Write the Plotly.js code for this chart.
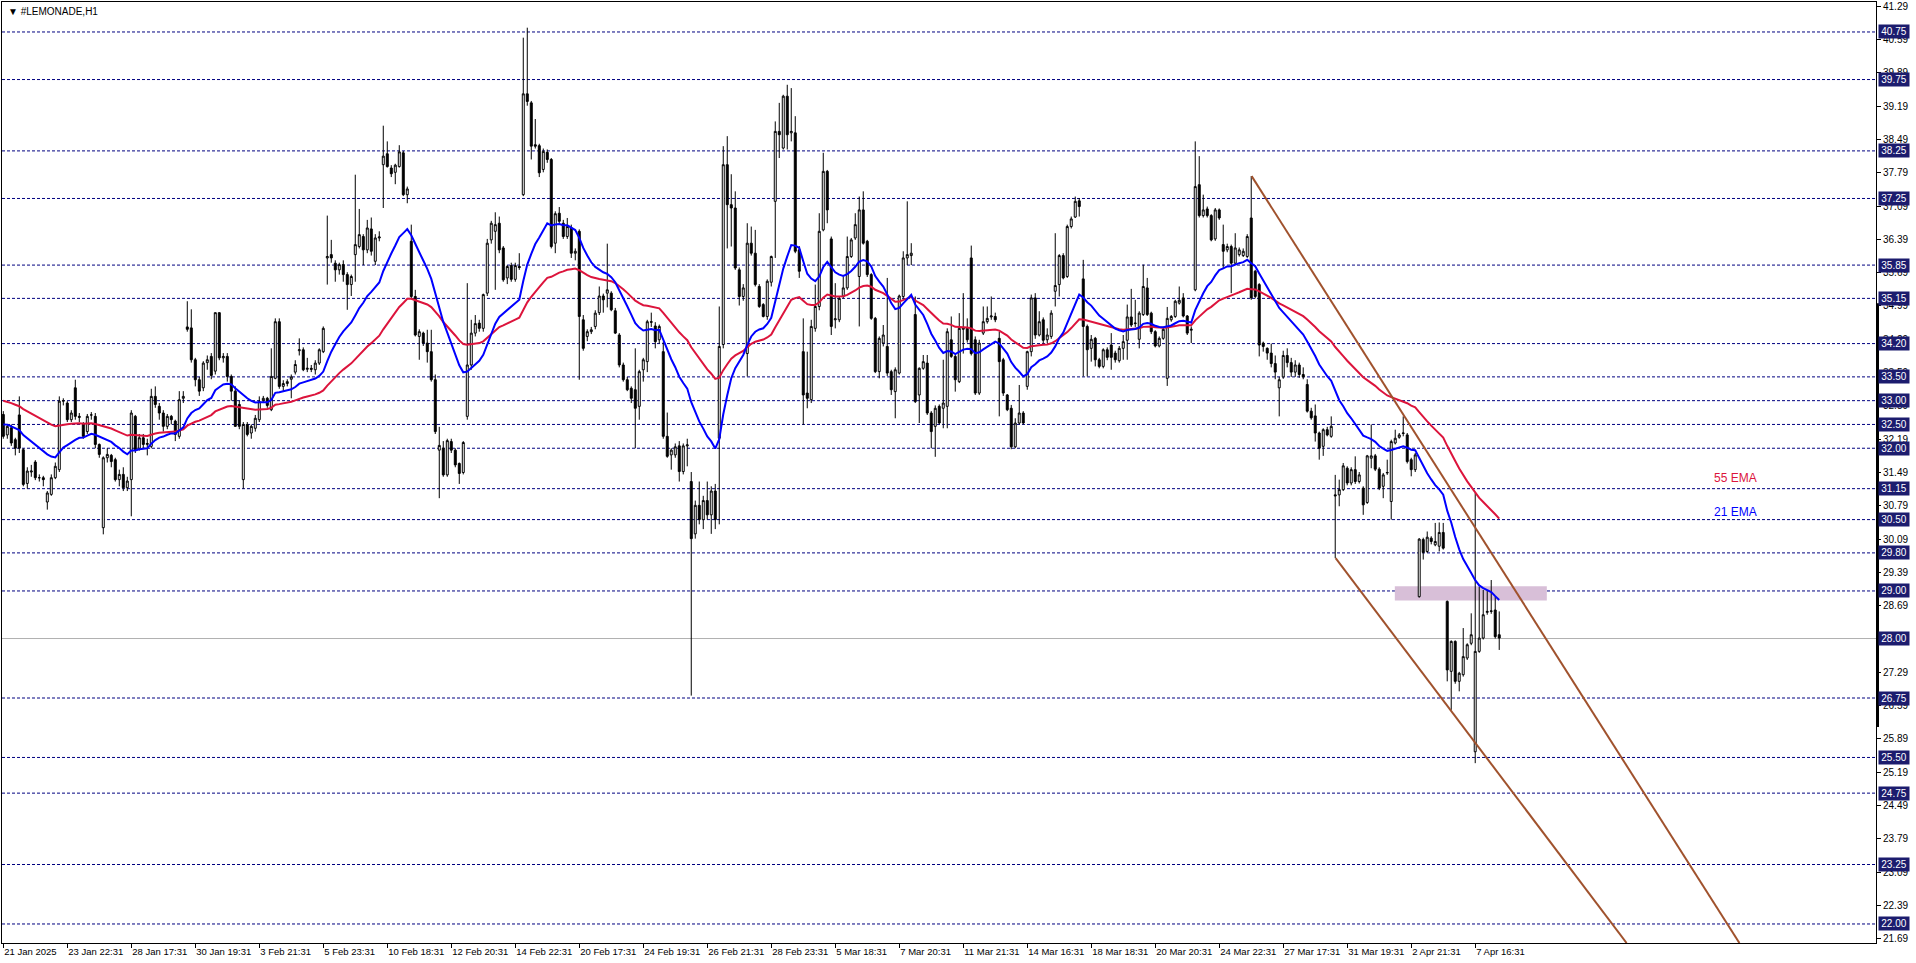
<!DOCTYPE html>
<html><head><meta charset="utf-8">
<script src="https://cdn.plot.ly/plotly-3.0.1.min.js"></script>
<style>html,body{margin:0;padding:0;background:#fff;}#chart{width:1916px;height:963px;}</style>
</head><body><div id="chart"></div>
<script>
const symbolTitle = '\u25BC #LEMONADE,H1';

const openPrices = [
32.71,32.28,32.43,32.18,32.70,31.97,31.26,31.50,31.71,31.38,
31.38,30.87,31.03,31.38,31.55,32.99,32.95,32.60,33.27,32.67,
32.50,32.35,32.70,32.67,32.08,30.33,31.80,31.85,31.76,31.34,
31.45,31.17,31.34,32.67,32.00,32.22,32.08,32.04,33.09,32.88,
32.74,32.46,32.67,32.57,32.25,33.05,34.55,34.53,33.86,33.44,
33.27,33.80,33.93,33.62,34.85,33.90,33.93,33.51,33.20,32.92,
31.34,32.50,32.32,32.42,32.60,33.00,33.05,32.81,33.47,34.66,
33.30,33.36,33.45,33.60,34.05,34.07,33.66,33.68,33.65,33.79,
34.03,36.00,36.07,35.89,35.75,35.86,35.65,35.44,36.07,36.24,
36.45,36.17,36.61,35.93,36.42,37.96,38.19,37.89,37.80,37.92,
38.21,37.33,36.35,35.19,34.35,34.42,34.21,34.03,33.44,31.96,
32.00,31.44,32.14,31.96,31.68,31.49,32.67,33.75,34.42,34.63,
34.52,35.26,36.38,36.56,36.73,36.21,35.58,35.84,35.55,35.82,
37.33,39.45,39.26,38.38,38.36,37.86,38.22,38.07,36.31,36.94,
36.73,36.45,36.63,36.10,36.56,34.70,34.35,34.45,34.56,34.85,
35.20,35.26,35.26,34.89,34.38,33.75,33.44,33.26,33.23,32.88,
33.65,33.82,34.66,34.57,34.28,34.03,32.25,31.86,31.86,32.05,
31.51,32.05,31.30,30.20,30.80,30.50,30.90,30.60,31.10,32.21,
34.18,37.96,37.12,37.05,35.75,35.19,33.99,36.31,36.10,35.40,
35.02,34.77,35.49,37.19,38.66,38.31,39.40,38.63,38.63,36.17,
34.03,33.16,33.02,34.52,34.98,36.59,37.82,36.40,34.70,34.70,
35.19,35.37,36.03,36.42,35.61,37.01,36.35,35.65,34.73,33.61,
34.21,34.14,33.61,33.19,33.58,35.19,36.00,36.05,34.81,33.12,
33.68,33.79,32.74,32.46,32.88,32.84,32.88,34.28,33.93,33.40,
34.50,34.52,36.00,34.28,33.16,34.42,34.66,34.76,34.77,34.31,
33.86,33.12,32.84,32.03,32.53,32.74,33.30,34.03,35.16,34.38,
34.70,34.28,34.35,35.30,35.44,36.05,35.61,36.66,36.86,37.20,
35.56,34.56,34.10,34.31,33.86,33.72,34.07,34.17,34.00,33.84,
34.10,34.27,34.76,34.62,34.29,34.81,35.37,34.84,34.45,34.15,
34.31,33.47,34.70,34.77,35.05,35.16,34.78,34.48,35.33,37.54,
36.89,37.03,36.89,36.40,37.01,36.28,36.17,36.24,35.89,36.07,
36.05,36.03,36.84,35.72,35.44,34.21,34.10,34.00,33.78,33.27,
33.50,33.95,33.80,33.60,33.75,33.55,33.34,32.78,32.68,32.32,
32.04,32.39,32.25,31.02,31.02,31.13,31.58,31.27,31.55,31.30,
31.16,30.86,31.79,31.84,31.56,31.20,31.48,30.88,32.11,32.23,
32.31,32.28,31.76,31.55,28.88,30.08,29.83,30.11,29.97,29.94,
30.23,28.78,27.31,27.94,27.10,27.24,27.59,27.90,25.62,27.73,
28.01,28.55,28.57,28.60,28.08];

const highPrices = [
32.78,32.50,32.50,32.22,33.09,32.00,31.60,31.65,31.75,31.45,
31.42,31.10,31.45,31.70,33.09,33.05,32.99,32.80,33.44,32.74,
32.55,32.72,32.76,32.74,32.10,31.83,32.00,31.88,31.80,31.55,
31.60,31.40,32.80,32.70,32.30,32.30,32.20,33.25,33.30,32.95,
32.80,32.72,32.70,32.60,33.20,33.20,35.09,34.92,33.90,33.50,
33.83,33.95,34.00,34.85,34.85,34.00,34.00,33.55,33.30,33.00,
32.55,32.55,32.50,32.70,33.09,33.10,33.08,34.10,34.73,34.73,
33.43,33.45,33.55,33.85,34.31,34.12,33.90,33.75,33.85,34.10,
34.56,36.89,36.38,35.95,35.90,35.95,35.70,35.65,37.75,37.03,
36.50,36.80,36.85,36.50,36.56,38.78,38.45,37.95,37.98,38.37,
38.25,37.50,36.70,35.33,34.50,34.45,34.49,34.49,33.55,32.45,
32.15,32.20,32.20,32.00,31.70,32.15,35.47,34.70,34.80,34.70,
35.25,36.40,36.78,36.96,36.87,36.25,35.85,35.90,35.90,36.10,
40.63,40.84,39.30,38.92,38.40,38.30,38.28,38.10,36.98,37.07,
36.80,36.84,36.70,36.20,36.60,34.80,34.50,34.55,34.90,35.40,
35.25,36.30,35.30,34.95,34.42,33.80,33.50,33.30,34.10,33.65,
33.90,34.70,34.85,34.65,34.60,34.24,32.75,32.00,32.10,32.15,
32.10,32.20,31.50,30.90,31.30,31.00,31.30,31.20,31.25,34.98,
38.35,38.56,37.76,37.40,35.80,35.45,36.73,36.66,36.59,35.45,
35.05,35.55,36.05,38.87,39.26,39.43,39.64,39.57,38.98,36.25,
34.73,34.03,34.70,35.44,36.94,38.21,37.85,36.45,35.47,35.19,
35.61,36.45,36.42,36.94,37.29,37.40,36.38,35.68,34.76,34.35,
34.59,35.58,33.65,33.70,35.23,36.14,37.19,36.31,35.19,33.70,
33.96,33.96,32.78,32.90,32.92,33.86,34.52,34.77,33.96,34.84,
35.26,34.73,36.26,34.35,34.28,34.98,34.98,35.19,34.85,34.45,
33.90,33.14,32.91,32.63,33.33,32.78,34.05,35.23,35.26,34.88,
34.75,34.52,34.90,36.52,36.08,36.10,36.70,36.87,37.29,37.26,
35.96,34.60,34.38,34.34,33.90,34.10,34.12,34.42,34.05,34.15,
34.38,35.02,35.35,35.12,34.88,35.86,35.58,34.87,34.48,34.35,
34.55,34.97,34.80,35.12,35.40,35.26,34.80,34.56,38.45,38.14,
37.33,37.08,36.92,37.05,37.04,36.70,36.30,36.28,36.52,36.22,
36.20,36.50,37.72,35.75,35.47,34.24,34.12,34.20,33.95,33.50,
34.05,34.10,33.90,33.85,33.80,33.70,33.45,32.85,32.92,32.35,
32.42,32.45,32.67,31.44,31.34,31.69,31.62,31.60,31.83,31.50,
31.20,31.86,32.50,31.88,31.60,31.48,31.76,32.18,32.39,32.32,
32.67,32.32,31.80,31.90,30.11,30.12,30.25,30.15,30.43,30.44,
30.43,28.80,27.96,27.96,27.30,28.22,27.90,28.53,31.06,29.09,
29.02,29.02,29.23,28.88,28.57];

const lowPrices = [
32.20,32.20,32.05,31.85,31.90,31.20,31.15,31.40,31.33,31.30,
31.20,30.71,31.00,31.35,31.50,32.90,32.55,32.55,32.60,32.55,
32.20,32.30,32.60,32.00,31.80,30.19,31.70,31.60,31.30,31.20,
31.10,31.10,30.57,31.90,31.95,32.00,31.85,32.00,32.85,32.60,
32.35,32.40,32.50,32.15,32.20,32.95,34.45,33.80,33.30,33.10,
33.20,33.65,33.45,33.55,33.85,33.80,33.40,33.00,32.45,32.40,
31.15,32.25,32.20,32.35,32.55,32.95,32.85,32.78,33.45,33.25,
33.20,33.30,33.05,33.55,33.95,33.62,33.60,33.60,33.55,33.75,
34.00,35.44,35.90,35.50,35.65,35.50,34.91,35.20,35.50,36.20,
35.85,36.10,36.05,35.85,36.35,37.05,37.90,37.70,37.55,37.90,
37.30,37.15,35.15,34.35,33.86,34.15,33.80,33.40,32.30,30.95,
31.40,31.40,31.90,31.60,31.25,31.45,32.60,33.65,34.35,34.45,
34.45,35.20,36.30,35.33,36.10,35.50,35.45,35.50,35.50,35.75,
37.30,39.20,38.07,38.30,37.70,37.80,38.00,36.20,36.10,36.70,
36.40,36.40,36.00,35.95,33.44,34.05,34.25,34.40,34.50,34.80,
34.85,34.96,34.88,34.40,33.70,33.40,33.20,32.95,32.00,32.60,
33.40,33.60,34.55,34.10,34.20,32.20,31.80,31.55,31.80,31.30,
31.45,31.62,26.80,30.10,30.40,30.30,30.50,30.20,30.30,30.40,
34.10,36.20,36.24,35.75,35.00,35.10,33.51,36.05,35.40,34.95,
34.75,34.70,35.40,36.00,38.10,38.28,38.28,38.45,36.10,35.58,
32.49,32.84,32.95,34.45,34.90,36.56,36.73,34.38,34.52,34.65,
35.15,35.33,36.00,36.38,34.56,36.28,35.60,34.70,33.58,33.47,
34.14,33.52,33.12,32.63,33.55,35.15,35.85,35.85,32.95,32.53,
33.65,32.70,32.00,31.82,32.50,32.42,32.42,33.90,33.19,33.37,
33.99,34.22,33.95,33.12,33.12,34.38,34.62,34.70,34.65,32.67,
33.10,32.78,31.98,32.00,32.50,32.50,33.23,33.93,34.30,34.35,
34.20,34.21,34.30,34.98,35.19,35.55,35.58,36.62,36.84,36.87,
33.51,33.51,33.82,33.72,33.68,33.68,33.85,33.65,33.80,33.80,
33.86,33.86,34.55,34.55,34.10,34.78,34.78,34.40,34.12,34.12,
34.28,33.31,34.66,34.74,35.02,34.75,34.38,34.21,35.30,36.85,
36.85,36.85,36.35,36.36,36.80,35.79,36.12,35.26,35.86,36.03,
36.02,36.00,35.12,35.15,33.93,34.03,33.86,33.70,33.45,32.67,
33.46,33.70,33.50,33.50,33.48,33.45,32.75,32.60,32.14,31.76,
31.84,32.25,32.22,29.69,30.78,31.10,31.22,31.22,31.25,31.26,
30.60,30.83,31.58,31.52,31.12,30.95,31.44,30.50,32.08,32.20,
32.25,31.68,31.41,31.50,28.86,29.66,29.80,29.98,29.94,29.83,
29.87,27.10,26.50,27.05,26.89,27.20,27.55,27.86,25.38,27.70,
27.98,28.50,28.52,28.00,27.76];

const closePrices = [
32.25,32.46,32.11,32.00,32.00,31.24,31.52,31.52,31.38,31.38,
31.34,31.06,31.38,31.62,32.99,33.00,32.60,32.74,32.67,32.65,
32.25,32.67,32.70,32.08,31.87,31.80,31.87,31.72,31.34,31.45,
31.17,31.31,32.74,31.97,32.22,32.08,32.10,33.09,32.92,32.74,
32.46,32.67,32.60,32.29,33.02,33.09,34.50,33.86,33.44,33.20,
33.79,33.86,33.53,34.85,33.90,33.93,33.51,33.20,32.46,32.46,
32.50,32.29,32.46,32.63,32.98,33.05,32.90,33.51,34.66,33.30,
33.36,33.40,33.50,33.76,34.07,33.65,33.68,33.66,33.79,34.07,
34.52,36.03,36.00,35.75,35.86,35.65,35.44,35.61,36.28,36.49,
36.17,36.63,36.14,36.42,36.44,38.14,37.92,37.77,37.95,38.23,
37.33,37.45,35.19,34.38,34.45,34.21,34.03,33.44,32.35,32.06,
31.44,32.16,31.96,31.65,31.47,32.12,33.75,34.42,34.62,34.52,
35.23,36.31,36.73,36.70,36.17,35.54,35.82,35.55,35.84,35.80,
39.45,39.29,38.35,38.35,37.79,38.24,38.07,36.24,36.93,36.77,
36.45,36.66,36.10,36.14,34.77,34.10,34.45,34.49,34.84,35.20,
35.12,35.33,34.91,34.42,33.75,33.44,33.23,33.05,32.84,33.61,
33.86,34.66,34.65,34.24,34.56,32.25,31.83,31.96,32.03,31.51,
32.05,32.07,30.10,30.80,30.50,30.90,30.60,31.10,30.50,34.14,
37.96,37.12,37.05,35.79,35.19,35.37,36.31,36.10,35.44,34.98,
34.77,35.51,36.03,38.66,38.59,39.40,38.59,38.66,36.14,35.72,
33.12,33.05,34.56,34.98,36.56,37.82,37.01,34.56,34.72,35.15,
35.37,36.03,36.38,36.70,37.01,36.31,35.65,34.73,33.61,34.31,
34.38,33.58,33.23,33.65,35.20,36.00,36.07,36.10,32.98,33.68,
33.82,32.74,32.35,32.84,32.53,32.95,34.45,33.93,33.44,34.52,
34.53,34.28,33.99,33.16,34.21,34.66,34.73,34.78,34.70,33.82,
33.16,32.81,32.03,32.53,32.74,32.53,34.03,35.16,34.38,34.66,
34.27,34.38,34.84,35.42,36.05,35.58,36.66,36.82,37.19,37.08,
34.56,34.07,34.29,33.86,33.72,34.07,33.91,33.91,33.86,34.10,
34.24,34.76,34.59,34.63,34.84,35.40,34.81,34.45,34.15,34.31,
34.50,34.73,34.77,35.09,35.11,34.78,34.42,34.50,37.50,36.89,
37.01,36.89,36.38,37.01,36.84,36.14,36.24,35.89,36.21,36.17,
36.14,36.45,35.16,35.19,34.17,34.14,34.00,33.78,33.60,33.44,
33.95,33.80,33.60,33.75,33.55,33.50,32.78,32.64,32.32,32.00,
32.39,32.28,32.46,31.00,31.13,31.63,31.27,31.55,31.30,31.44,
30.81,31.84,31.84,31.56,31.16,31.44,31.49,32.14,32.21,32.28,
32.32,31.72,31.55,31.86,30.09,29.81,30.13,30.04,30.04,30.23,
29.90,27.34,27.94,27.10,27.27,27.62,27.87,28.08,27.73,28.01,
28.50,28.57,28.58,28.04,28.01];

const xTickLabels = ['21 Jan 2025','23 Jan 22:31','28 Jan 17:31','30 Jan 19:31','3 Feb 21:31','5 Feb 23:31',
'10 Feb 18:31','12 Feb 20:31','14 Feb 22:31','20 Feb 17:31','24 Feb 19:31','26 Feb 21:31','28 Feb 23:31',
'5 Mar 18:31','7 Mar 20:31','11 Mar 21:31','14 Mar 16:31','18 Mar 18:31','20 Mar 20:31','24 Mar 22:31',
'27 Mar 17:31','31 Mar 19:31','2 Apr 21:31','7 Apr 16:31'];
const barsPerTick = 16;

const yTickValues = [41.29,40.59,39.89,39.19,38.49,37.79,37.09,36.39,35.69,34.99,34.29,33.59,32.89,32.19,
31.49,30.79,30.09,29.39,28.69,27.29,26.59,25.89,25.19,24.49,23.79,23.09,22.39,21.69];

const levelValues = [40.75,39.75,38.25,37.25,35.85,35.15,34.20,33.50,33.00,32.50,32.00,31.15,30.50,29.80,
29.00,28.00,26.75,25.50,24.75,23.25,22.00];
const currentPrice = 28.00;

// indicator values at the bar before the first visible bar
const ema21Prior = 32.525;
const ema55Prior = 33.027;

// drawn objects (bar index, price)
const upperChannel = [[312.1, 37.72],[434.05, 21.60]];
const lowerChannel = [[333.1, 29.69],[405.85, 21.60]];
const zoneBox = {x0: 347.9, x1: 385.9, y0: 28.80, y1: 29.10};
const emaLabels = [{text:'55 EMA', x:433, y:31.37, color:'#dc143c'},{text:'21 EMA', x:433, y:30.66, color:'#0000ff'}];

const yMin = 21.60, yMax = 41.38;

function ema(values, period, prior){
  const k = 2/(period+1); let prev = prior;
  return values.map(v => (prev = prev + k*(v-prev)));
}

const idx = closePrices.map((_, i) => i);
const ema21 = ema(closePrices, 21, ema21Prior);
const ema55 = ema(closePrices, 55, ema55Prior);

const font = 'Liberation Sans, Arial, sans-serif';

const traces = [
  {type:'candlestick', x: idx, open: openPrices, high: highPrices, low: lowPrices, close: closePrices,
   increasing:{line:{color:'#000000', width:1}, fillcolor:'#ffffff'},
   decreasing:{line:{color:'#000000', width:1}, fillcolor:'#000000'},
   whiskerwidth:0, hoverinfo:'skip', showlegend:false},
  {type:'scatter', mode:'lines', x: idx, y: ema55, line:{color:'#dc143c', width:2}, hoverinfo:'skip', showlegend:false},
  {type:'scatter', mode:'lines', x: idx, y: ema21, line:{color:'#0000ff', width:2}, hoverinfo:'skip', showlegend:false}
];

const shapes = [];
shapes.push({type:'rect', xref:'x', yref:'y', x0:zoneBox.x0, x1:zoneBox.x1, y0:zoneBox.y0, y1:zoneBox.y1,
  fillcolor:'#d8bfd8', line:{width:0}, layer:'below'});
levelValues.forEach(v => {
  if (v === currentPrice) {
    shapes.push({type:'line', xref:'paper', x0:0, x1:1, yref:'y', y0:v, y1:v, line:{color:'#b0b0b0', width:1}, layer:'below'});
  } else {
    shapes.push({type:'line', xref:'paper', x0:0, x1:1, yref:'y', y0:v, y1:v, line:{color:'#000080', width:1, dash:'3px,2px'}, layer:'below'});
  }
});
[upperChannel, lowerChannel].forEach(c => {
  shapes.push({type:'line', xref:'x', yref:'y', x0:c[0][0], y0:c[0][1], x1:c[1][0], y1:c[1][1], line:{color:'#a0522d', width:2}, layer:'above'});
});
// thick marker on the price scale
shapes.push({type:'rect', xref:'paper', yref:'paper', x0:1, x1:1+3/1874, y0:(26.14-yMin)/(yMax-yMin), y1:(35.05-yMin)/(yMax-yMin),
  fillcolor:'#000000', line:{width:0}});

const annotations = [];
annotations.push({xref:'paper', yref:'paper', x:0, y:1, xanchor:'left', yanchor:'top', xshift:4, yshift:-2,
  text: symbolTitle, showarrow:false, font:{family:font, size:10, color:'#000'}});
levelValues.forEach(v => {
  annotations.push({xref:'paper', yref:'y', x:1, y:v, xanchor:'left', yanchor:'middle', xshift:2,
    text: v.toFixed(2), showarrow:false, bgcolor:'#1c1c6e', borderpad:1, width:28,
    font:{family:font, size:10, color:'#ffffff'}});
});
emaLabels.forEach(l => {
  annotations.push({xref:'x', yref:'y', x:l.x, y:l.y, text:l.text, showarrow:false, font:{family:font, size:12, color:l.color}});
});

const layout = {
  width:1916, height:963,
  margin:{l:2, r:40, t:2, b:20, pad:0},
  paper_bgcolor:'#ffffff', plot_bgcolor:'#ffffff',
  showlegend:false, dragmode:false,
  xaxis:{type:'linear', range:[-0.325, 468.2], rangeslider:{visible:false},
    tickvals: xTickLabels.map((_, i) => i*barsPerTick), ticktext: xTickLabels,
    ticks:'outside', ticklen:4, tickcolor:'#000', tickwidth:1, ticklabelposition:'outside right', tickangle:0,
    showline:true, linecolor:'#000', linewidth:1, mirror:true, showgrid:false, zeroline:false,
    tickfont:{family:font, size:9.5, color:'#000'}},
  yaxis:{range:[yMin, yMax], side:'right', tickvals:yTickValues, ticktext:yTickValues.map(v => v.toFixed(2)),
    ticks:'outside', ticklen:4, tickcolor:'#000', tickwidth:1,
    showline:true, linecolor:'#000', linewidth:1, mirror:true, showgrid:false, zeroline:false,
    tickfont:{family:font, size:10, color:'#000'}},
  shapes, annotations
};

Plotly.newPlot('chart', traces, layout, {staticPlot:true, displayModeBar:false});
</script>
</body></html>
